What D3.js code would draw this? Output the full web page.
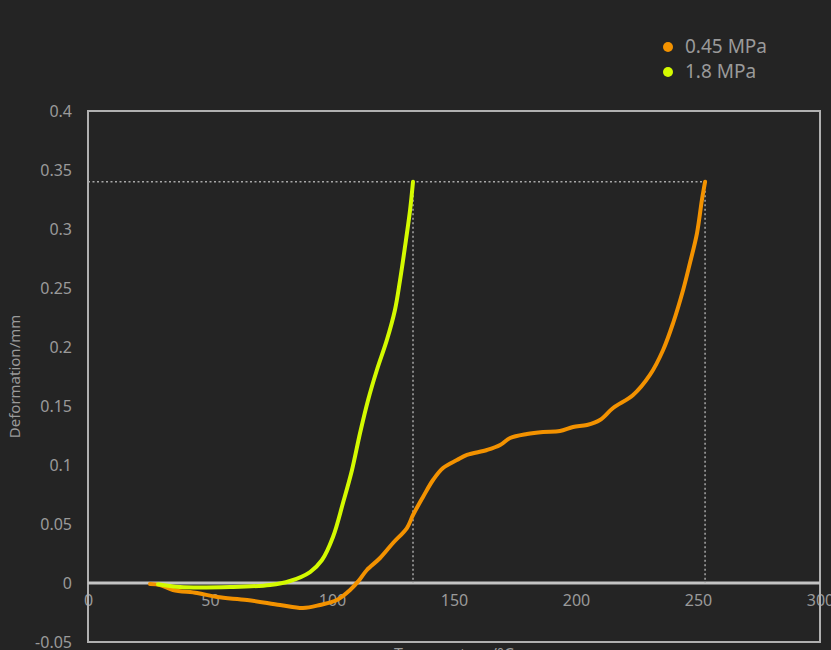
<!DOCTYPE html>
<html>
<head>
<meta charset="utf-8">
<script src="https://cdn.jsdelivr.net/npm/d3@7"></script>
<style>
  body { margin: 0; background: #242424; }
  text { font-family: "Noto Sans", sans-serif; }
</style>
</head>
<body>
<div id="chart"></div>
<script>
// series: temperature (°C) vs deformation (mm)
var series045 = [
  [25.4, -0.0008], [29.5, -0.0017], [34.8, -0.0059], [44.7, -0.0085], [52.9, -0.0119],
  [65.2, -0.0144], [78.7, -0.0186], [88.1, -0.0212], [95.1, -0.0186], [102, -0.0144],
  [107.4, -0.0059], [111, 0.002], [114.3, 0.011], [119.7, 0.0212], [125, 0.0339],
  [130.7, 0.0466], [133.2, 0.0576], [137.3, 0.0729], [141.4, 0.0873], [145.5, 0.0975],
  [151.2, 0.1042], [155.3, 0.1085], [163.5, 0.1127], [168.9, 0.1169], [173, 0.1229],
  [179.9, 0.1263], [186.5, 0.128], [193.4, 0.1288], [198.8, 0.1322], [204.5, 0.1339],
  [209.8, 0.1381], [215.2, 0.1483], [223.4, 0.1593], [230.3, 0.1763], [235.7, 0.1975],
  [239.8, 0.2203], [243.9, 0.2483], [246.7, 0.2712], [249.6, 0.2966], [251.6, 0.3246],
  [252.9, 0.34]
];

var series18 = [
  [28.7, -0.001], [37.7, -0.0034], [58.2, -0.0034], [74.6, -0.0017], [82.8, 0.0017],
  [91, 0.0093], [95.9, 0.0195], [100.4, 0.039], [104.5, 0.0678], [108.2, 0.0958],
  [111.5, 0.1271], [114.8, 0.1551], [118.4, 0.1805], [122.5, 0.2060], [125.8, 0.2314],
  [127.9, 0.2568], [129.9, 0.2847], [132, 0.3161], [133.2, 0.34]
];

var seriesNames = ["0.45 MPa", "1.8 MPa"];
var seriesColors = ["#f39200", "#d4fa00"];

var xTicks = [0, 50, 100, 150, 200, 250, 300];
var yTicks = [0.4, 0.35, 0.3, 0.25, 0.2, 0.15, 0.1, 0.05, 0, -0.05];

// marker at the end deformation of both runs
var markY = 0.34;
var markX = [133.2, 252.9];

// dimensions
var W = 831, H = 650;
var margin = {top: 111, right: 11, bottom: 8, left: 88},
    width = W - margin.left - margin.right,
    height = H - margin.top - margin.bottom;

var svg = d3.select("#chart")
  .append("svg")
    .attr("width", W)
    .attr("height", H)
    .style("background", "#242424");

var g = svg.append("g")
  .attr("transform", "translate(" + margin.left + "," + margin.top + ")");

var x = d3.scaleLinear().domain([0, 300]).range([0, width]);
var y = d3.scaleLinear().domain([-0.05, 0.4]).range([height, 0]);

// y axis labels
var yAxis = g.append("g")
  .call(d3.axisLeft(y).tickValues(yTicks).tickSize(0).tickPadding(16)
    .tickFormat(function(d) { return String(+d.toFixed(2)); }));
yAxis.select(".domain").remove();
yAxis.selectAll("text")
  .attr("fill", "#9a9a9a")
  .style("font-size", "16px")
  .style("font-family", "'Noto Sans', sans-serif");

// x axis labels under the zero line
var xAxis = g.append("g")
  .attr("transform", "translate(0," + y(0) + ")")
  .call(d3.axisBottom(x).tickValues(xTicks).tickSize(0).tickPadding(12));
xAxis.select(".domain").remove();
xAxis.selectAll("text")
  .attr("fill", "#9a9a9a")
  .style("font-size", "16px")
  .style("font-family", "'Noto Sans', sans-serif");

// frame
g.append("rect")
  .attr("x", 0).attr("y", 0)
  .attr("width", width).attr("height", height)
  .attr("fill", "none")
  .attr("stroke", "#b0b0b0")
  .attr("stroke-width", 2);

// zero line
g.append("line")
  .attr("x1", 0).attr("x2", width)
  .attr("y1", y(0)).attr("y2", y(0))
  .attr("stroke", "#c4c4c4")
  .attr("stroke-width", 3);

// dotted guides
g.append("line")
  .attr("x1", 0).attr("x2", x(markX[1]))
  .attr("y1", y(markY)).attr("y2", y(markY))
  .attr("stroke", "#a8a8a8").attr("stroke-width", 1.5)
  .attr("stroke-dasharray", "2,2.5");
markX.forEach(function(t) {
  g.append("line")
    .attr("x1", x(t)).attr("x2", x(t))
    .attr("y1", y(markY)).attr("y2", y(0))
    .attr("stroke", "#a8a8a8").attr("stroke-width", 1.5)
    .attr("stroke-dasharray", "2,2.5");
});

// curves
var line = d3.line()
  .x(function(d) { return x(d[0]); })
  .y(function(d) { return y(d[1]); })
  .curve(d3.curveCatmullRom.alpha(0.5));

[series045, series18].forEach(function(s, i) {
  g.append("path")
    .datum(s)
    .attr("fill", "none")
    .attr("stroke", seriesColors[i])
    .attr("stroke-width", 4)
    .attr("stroke-linecap", "round")
    .attr("stroke-linejoin", "round")
    .attr("d", line);
});

// axis titles
svg.append("text")
  .attr("transform", "translate(20," + (margin.top + height / 2) + ") rotate(-90)")
  .attr("text-anchor", "middle")
  .attr("fill", "#9a9a9a")
  .style("font-size", "15px")
  .text("Deformation/mm");

svg.append("text")
  .attr("x", margin.left + width / 2)
  .attr("y", 660)
  .attr("text-anchor", "middle")
  .attr("fill", "#9a9a9a")
  .style("font-size", "16px")
  .text("Temperature/°C");

// legend
var legend = svg.append("g");
seriesNames.forEach(function(name, i) {
  legend.append("circle")
    .attr("cx", 668).attr("cy", 47 + i * 25)
    .attr("r", 5)
    .attr("fill", seriesColors[i]);
  legend.append("text")
    .attr("x", 685).attr("y", 53 + i * 25)
    .attr("fill", "#9a9a9a")
    .style("font-size", "19px")
    .text(name);
});
</script>
</body>
</html>
